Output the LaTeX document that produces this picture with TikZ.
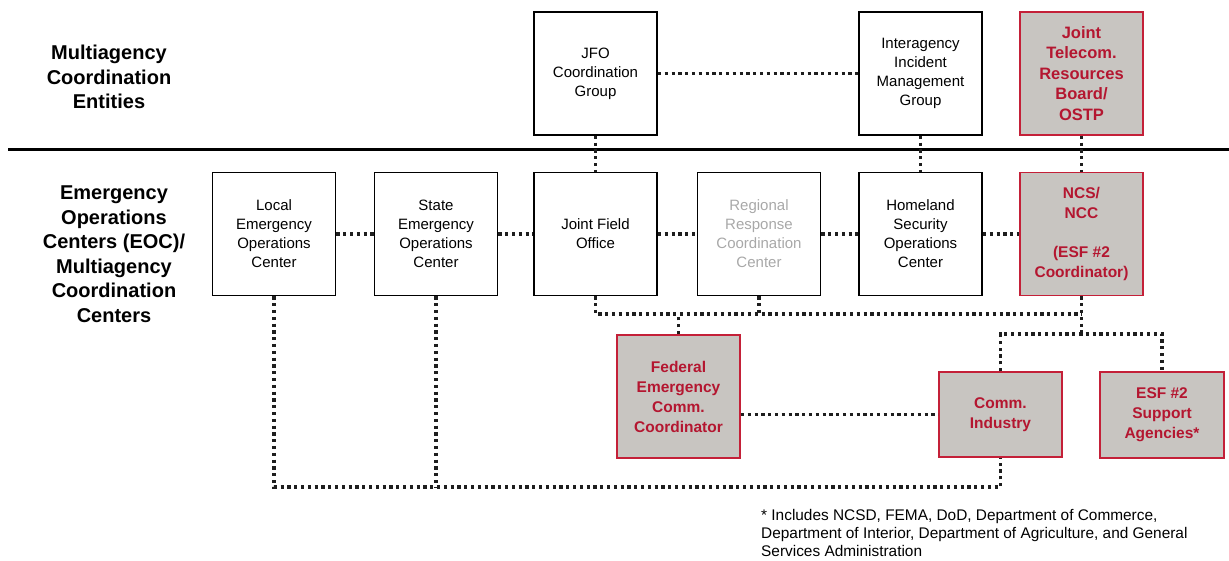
\documentclass[tikz,border=0pt]{standalone}
\usepackage{fontspec}
\setmainfont{Liberation Sans}
\usetikzlibrary{calc}
\definecolor{ncsred}{RGB}{196,32,56}
\definecolor{ncstext}{RGB}{180,22,48}
\definecolor{ncsfill}{RGB}{200,197,193}
\definecolor{fadedtext}{RGB}{168,168,168}
\definecolor{linkink}{RGB}{30,30,30}
\tikzset{
  orgbox/.style={draw=black, line width=1.8pt, minimum width=123pt, minimum height=123pt,
    inner sep=0pt, align=center, font=\fontsize{15}{19}\selectfont},
  esfbox/.style={orgbox, draw=ncsred, fill=ncsfill, text=ncstext,
    font=\bfseries\fontsize{15.5}{20}\selectfont},
  tierlabel/.style={align=center, font=\bfseries\fontsize{20}{24.5}\selectfont},
  link/.style={draw=linkink, line width=3.2pt, dash pattern=on 3.2pt off 3.6pt},
}
\begin{document}
\begin{tikzpicture}[x=1pt, y=-1pt]
\useasboundingbox (0,0) rectangle (1229,561);

% tier separator
\draw[line width=3pt] (8,150) -- (1229,150);

% tier labels
\node[tierlabel] (tierA) at (109,77) {Multiagency\\Coordination\\Entities};
\node[tierlabel] (tierB) at (114,254) {Emergency\\Operations\\Centers (EOC)/\\Multiagency\\Coordination\\Centers};

% multiagency coordination entities
\node[orgbox] (jfocg) at (595.5,73.5) {JFO\\Coordination\\Group};
\node[orgbox] (iimg)  at (920.5,73.5) {Interagency\\Incident\\Management\\Group};
\node[esfbox, font=\bfseries\fontsize{16.5}{20.5}\selectfont] (jtrb) at (1081.5,73.5) {Joint\\Telecom.\\Resources\\Board/\\OSTP};

% operations centers
\node[orgbox] (local) at (274,234) {Local\\Emergency\\Operations\\Center};
\node[orgbox] (state) at (436,234) {State\\Emergency\\Operations\\Center};
\node[orgbox] (jfo)   at (595.5,234) {Joint Field\\Office};
\node[orgbox, text=fadedtext] (rrcc) at (759,234) {Regional\\Response\\Coordination\\Center};
\node[orgbox] (hsoc)  at (920.5,234) {Homeland\\Security\\Operations\\Center};
\node[esfbox] (ncs)   at (1081.5,234) {NCS/\\NCC\\[19pt](ESF \#2\\Coordinator)};

% ESF #2 elements
\node[esfbox] (fecc) at (678.5,396.5) {Federal\\Emergency\\Comm.\\Coordinator};
\node[esfbox, minimum height=85pt] (comm) at (1000.5,414.5) {Comm.\\Industry};
\node[esfbox, minimum width=124pt, minimum height=86pt] (esf) at (1162,415) {ESF \#2\\Support\\Agencies*};

% footnote
\node[anchor=north west, align=left, inner sep=0pt, font=\fontsize{15.4}{18}\selectfont] (note) at (761,509)
  {* Includes NCSD, FEMA, DoD, Department of Commerce,\\Department of Interior, Department of Agriculture, and General\\Services Administration};

% bus points
\coordinate (upbus) at (1081.5,314);
\coordinate (split) at (1081.5,334);
\coordinate (lowbus) at (1000.5,487);

% links
\draw[link] (jfocg.east) -- (iimg.west);
\draw[link] (jfocg.south) -- (jfo.north);
\draw[link] (iimg.south) -- (hsoc.north);
\draw[link] (jtrb.south) -- (ncs.north);

\draw[link] (local.east) -- (state.west);
\draw[link] (state.east) -- (jfo.west);
\draw[link] (jfo.east) -- (rrcc.west);
\draw[link] (rrcc.east) -- (hsoc.west);
\draw[link] (hsoc.east) -- (ncs.west);

\draw[link] (jfo.south) |- (upbus);
\draw[link] (rrcc.south) -- (rrcc.south |- upbus);
\draw[link] (fecc.north) -- (fecc.north |- upbus);
\draw[link] (ncs.south) -- (split);
\draw[link] (comm.north) |- (split) -| (esf.north);

\draw[link] (fecc.east |- comm.west) -- (comm.west);

\draw[link] (local.south) |- (lowbus) -- (comm.south);
\draw[link] (state.south) -- (state.south |- lowbus);
\end{tikzpicture}
\end{document}
